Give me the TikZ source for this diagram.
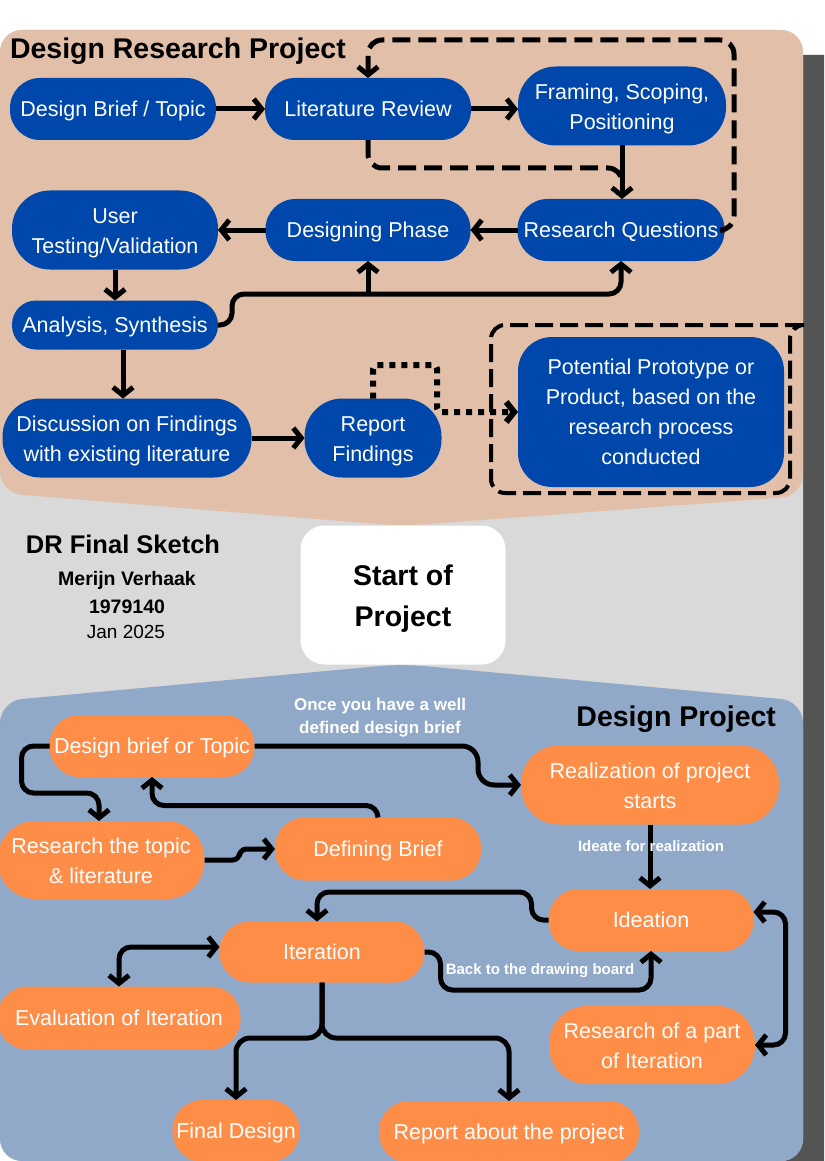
\documentclass[tikz,border=0pt]{standalone}
\usepackage{fontspec}
\setmainfont{Liberation Sans}
\usetikzlibrary{arrows.meta}

\definecolor{salmon}{RGB}{225,191,169}
\definecolor{panelgray}{RGB}{217,217,217}
\definecolor{bluegray}{RGB}{145,169,201}
\definecolor{shadowgray}{RGB}{84,84,84}
\definecolor{nodeblue}{RGB}{0,71,171}
\definecolor{nodeorange}{RGB}{254,141,72}

% struts so that a one-line node is centred on the middle of its capitals
\newcommand{\topstrut}{\rule[-0.3em]{0pt}{1.32em}}
\newcommand{\botstrut}{\rule[-0.3em]{0pt}{0.3em}}

\begin{document}
\begin{tikzpicture}[x=1pt,y=-1pt,
  every node/.style={inner sep=0pt, outer sep=0pt},
  vc/.style={execute at begin node=\topstrut, execute at end node=\botstrut},
  boxtext/.style={vc, text=white, align=center, font=\fontsize{21.5}{30}\selectfont},
  twolines/.style={text height=53.9pt, text depth=6.45pt},
  fourlines/.style={text height=111.9pt, text depth=6.45pt},
  bluebox/.style={boxtext, fill=nodeblue},
  orangebox/.style={boxtext, fill=nodeorange},
  sz/.style n args={3}{minimum width=#1, minimum height=#2, rounded corners=#3},
  arr/.style={line width=5pt, -{Straight Barb[length=8pt,width=20pt]}, rounded corners=12pt},
  dblarr/.style={line width=5pt, {Straight Barb[length=8pt,width=20pt]}-{Straight Barb[length=8pt,width=20pt]}, rounded corners=12pt},
  dsh/.style={line width=5pt, dash pattern=on 18pt off 8pt, rounded corners=14pt},
  dotline/.style={line width=6pt, dash pattern=on 6pt off 6pt, rounded corners=4pt},
  edgelabel/.style={vc, text=white, align=center, font=\bfseries\fontsize{15}{20}\selectfont},
  heading/.style={vc, font=\bfseries\fontsize{28.5}{34}\selectfont}
]
% canvas, drop shadow and the three panels
\clip (0,0) rectangle (824,1161);
\fill[white] (0,0) rectangle (824,1161);
\fill[shadowgray, rounded corners=18pt] (780,55) rectangle (860,1200);
\fill[panelgray, rounded corners=22pt] (0,30) rectangle (803,1161);
\fill[salmon, rounded corners=22pt] (0,493) -- (0,30) -- (803,30) -- (803,496) -- (402,526) -- cycle;
\fill[bluegray, rounded corners=22pt] (0,1161) -- (0,701) -- (402,664) -- (803,701) -- (803,1161) -- cycle;

% ---------------- Design Research Project ----------------
\node[heading, anchor=west] (drtitle) at (10,48) {Design Research Project};

\node[bluebox, sz={206pt}{62pt}{30pt}] (dbt) at (113,109) {Design Brief / Topic};
\node[bluebox, sz={206pt}{62pt}{30pt}] (lit) at (368,109) {Literature Review};
\node[bluebox, twolines, sz={208pt}{79pt}{38pt}] (fram) at (622,106) {Framing, Scoping,\\Positioning};
\node[bluebox, sz={207pt}{62pt}{30pt}] (rq) at (621,230) {Research Questions};
\node[bluebox, sz={205pt}{62pt}{30pt}] (dp) at (368,230) {Designing Phase};
\node[bluebox, twolines, sz={206pt}{79pt}{38pt}] (ut) at (115,230) {User\\Testing/Validation};
\node[bluebox, sz={206pt}{49pt}{24pt}] (an) at (115,325) {Analysis, Synthesis};
\node[bluebox, twolines, sz={249pt}{79pt}{38pt}] (disc) at (127,438) {Discussion on Findings\\with existing literature};
\node[bluebox, twolines, sz={137pt}{79pt}{38pt}] (rep) at (373,438) {Report\\Findings};
\node[bluebox, fourlines, sz={266pt}{150pt}{34pt}] (proto) at (651,412) {Potential Prototype or\\Product, based on the\\research process\\conducted};

% dashed frame around the prototype
\draw[line width=4pt, dash pattern=on 18pt off 7pt, rounded corners=14pt]
  (803,325) -- (491,325) -- (491,493) -- (790,493) -- (790,325) -- (803,325);

\coordinate (litjoin) at (622,168);
\coordinate (looptop) at (734,40);
\coordinate (bus) at (0,294);
\coordinate (dotturn) at (437,365);

\draw[arr] (dbt.east) -- (lit.west);
\draw[arr] (lit.east) -- (lit.east -| fram.west);
\draw[arr] (fram.south) -- (fram.south |- rq.north);
\draw[dsh] (lit.south) |- (litjoin) -- ++(0,14);
\draw[dsh, -{Straight Barb[length=8pt,width=20pt]}] (rq.east) -| (looptop) -| (lit.north);
\draw[arr] (rq.west) -- (dp.east);
\draw[arr] (dp.west) -- (ut.east);
\draw[arr] (ut.south) -- (an.north);
\draw[arr] (an.east) -- ++(14,0) |- (bus -| rq.south) -- (rq.south);
\draw[arr] (bus -| dp.south) -- (dp.south);
\draw[arr] ([xshift=8pt]an.south) -- ([xshift=-4pt]disc.north);
\draw[arr] (disc.east) -- (disc.east -| rep.west);
\draw[dotline, -{Straight Barb[length=8pt,width=20pt]}] (rep.north) |- (dotturn) |- (proto.west);

% ---------------- centre: title block and start ----------------
\node[vc, font=\bfseries\fontsize{25.5}{30}\selectfont] (sketch) at (123,544) {DR Final Sketch};
\node[vc, font=\bfseries\fontsize{19.5}{24}\selectfont] (author) at (127,578) {Merijn Verhaak};
\node[vc, font=\bfseries\fontsize{19.5}{24}\selectfont] (number) at (127,606) {1979140};
\node[vc, font=\fontsize{19}{24}\selectfont] (date) at (126,632) {Jan 2025};
\node[fill=white, sz={205pt}{139pt}{24pt}, align=center, text height=72pt, text depth=8.55pt,
      font=\bfseries\fontsize{28.5}{41}\selectfont] (start) at (403,595) {Start of\\Project};

% ---------------- Design Project ----------------
\node[heading, anchor=east] (dptitle) at (776,716) {Design Project};

\node[orangebox, sz={205pt}{62pt}{30pt}] (dbo) at (152,746) {Design brief or Topic};
\node[orangebox, twolines, sz={258pt}{79pt}{38pt}] (real) at (650,785) {Realization of project\\starts};
\node[orangebox, twolines, sz={207pt}{78pt}{38pt}] (rtl) at (101,860) {Research the topic\\\& literature};
\node[orangebox, sz={206pt}{63pt}{30pt}] (def) at (378,849) {Defining Brief};
\node[orangebox, sz={205pt}{62pt}{30pt}] (idea) at (651,920) {Ideation};
\node[orangebox, sz={205pt}{61pt}{30pt}] (iter) at (322,952) {Iteration};
\node[orangebox, sz={243pt}{63pt}{30pt}] (eval) at (119,1018) {Evaluation of Iteration};
\node[orangebox, twolines, sz={206pt}{78pt}{38pt}] (rpi) at (652,1045) {Research of a part\\of Iteration};
\node[orangebox, sz={127pt}{62pt}{30pt}] (fd) at (236,1131) {Final Design};
\node[orangebox, sz={260pt}{62pt}{30pt}] (rap) at (509,1132) {Report about the project};

\coordinate (realturn) at (478,785);
\coordinate (split) at (322,1038);

\draw[arr, rounded corners=16pt] (dbo.east) -| (realturn) -- (real.west);
\draw[arr] (dbo.west) -- ++(-28,0) -- ++(0,47) -| ([xshift=-2pt]rtl.north);
\draw[arr, rounded corners=7pt] (rtl.east) -- ++(35,0) |- (def.west);
\draw[arr] (def.north) -- ++(0,-12) -| (dbo.south);
\draw[arr] (real.south) -- (real.south |- idea.north);
\draw[arr] (idea.west) -- ++(-17,0) -- ++(0,-28) -| ([xshift=-5pt]iter.north);
\draw[dblarr] ([yshift=5pt]iter.west) -| (eval.north);
\draw[arr] (iter.east) -- ++(16,0) -- ++(0,38) -| (idea.south);
\draw[dblarr] ([yshift=8pt]idea.east) -- ++(32,0) |- (rpi.east);
\draw[arr, rounded corners=14pt] (iter.south) -- (split) -| (fd.north);
\draw[arr, rounded corners=14pt] (iter.south) -- (split) -| (rap.north);

\node[text=white, align=center, text height=40.3pt, text depth=5.1pt, font=\bfseries\fontsize{17}{23}\selectfont] (wellbrief) at (380,716) {Once you have a well\\defined design brief};
\node[edgelabel] (ideate) at (651,846) {Ideate for realization};
\node[edgelabel] (backboard) at (540,969) {Back to the drawing board};
\end{tikzpicture}
\end{document}
